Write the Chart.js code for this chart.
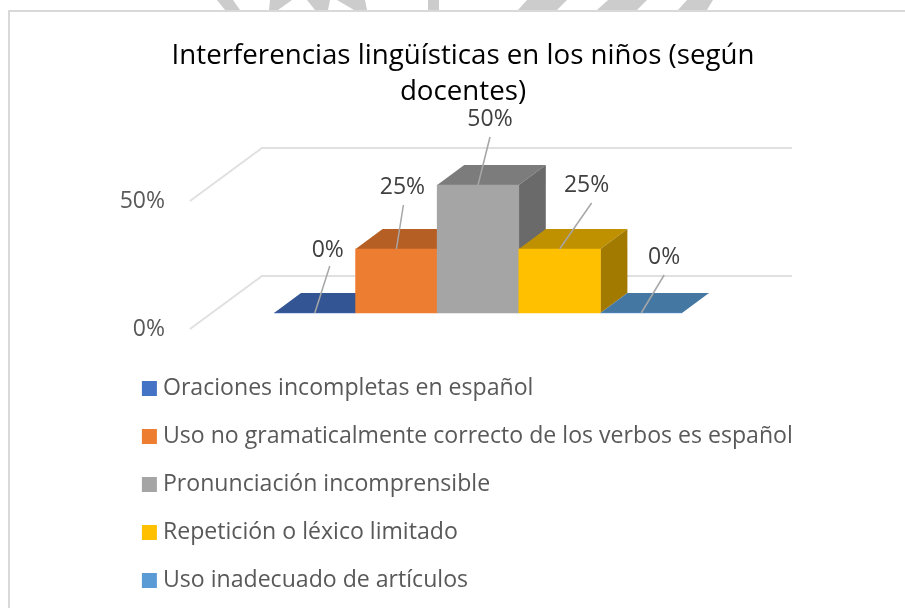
<!DOCTYPE html>
<html><head><meta charset="utf-8">
<style>html,body{margin:0;padding:0;background:#fff}canvas{display:block}</style>
<script src="https://cdn.jsdelivr.net/npm/chart.js@4"></script>
</head><body><canvas id="c" width="905" height="608"></canvas>
<script>
const titleLines = ['Interferencias lingüísticas en los niños (según', 'docentes)'];
const categories = ['Oraciones incompletas en español','Uso no gramaticalmente correcto de los verbos es español','Pronunciación incomprensible','Repetición o léxico limitado','Uso inadecuado de artículos'];
const values = [0, 25, 50, 25, 0];
const yTicks = [0, 50];
const frontColors = ['#4472C4','#ED7D31','#A5A5A5','#FFC000','#5B9BD5'];
const topColors = ['#335593','#B65F25','#7C7C7C','#BF9000','#4577A3'];
const sideColors = ['#29447A','#9A4F1E','#6A6A6A','#A37A00','#38607F'];
const labelOffsets = [[13,-63],[6,-62],[12,-66],[27,-64],[23,-56]];
const leaderEnds = [[15,-47],[7,-44],[12,-48],[32,-46],[23,-38]];
const depth = {x:27, y:20};
const wall = {x:72, y:-53, right:792};
const watermark = [[[217,0],[233,0],[240,10],[225,10]],[[270,0],[292,0],[278,10],[269,10]],[[307,0],[330,0],[328,10],[315,10]],[[337,0],[365,0],[367,10],[354,10]],[[428,0],[439,0],[439,10],[428,10]],[[527,0],[567,0],[557,10],[518,10]],[[608,0],[647,0],[637,10],[597,10]],[[687,0],[713,0],[707,10],[678,10]]];
const FONT = '"Open Sans"';
const poly = (ctx, pts, fill) => { ctx.beginPath(); pts.forEach((p,i)=> i?ctx.lineTo(p[0],p[1]):ctx.moveTo(p[0],p[1])); ctx.closePath(); ctx.fillStyle = fill; ctx.fill(); };

const scene = {
  id:'scene',
  afterLayout(chart){
    const lg = chart.legend;
    lg.maxHeight = 600; lg.maxWidth = 800; lg.fit();
    lg.left = 122.5; lg.right = lg.left + lg.width;
    lg.top = 352; lg.bottom = lg.top + lg.height;
    const tt = chart.titleBlock;
    tt.left = 21; tt.right = 905; tt.width = 884;
  },
  beforeDraw(chart){
    const ctx = chart.ctx;
    ctx.save();
    watermark.forEach(p => poly(ctx,p,'#CCCCCC'));
    ctx.strokeStyle = '#D9D9D9'; ctx.lineWidth = 2;
    ctx.beginPath(); ctx.moveTo(9,608); ctx.lineTo(9,11); ctx.lineTo(905,11); ctx.stroke();
    const sc = chart.scales.y;
    ctx.strokeStyle = '#E0E0E0'; ctx.lineWidth = 2;
    yTicks.forEach(t => {
      const y = sc.getPixelForValue(t), x0 = 190;
      ctx.beginPath(); ctx.moveTo(x0,y); ctx.lineTo(x0+wall.x,y+wall.y); ctx.lineTo(wall.right,y+wall.y); ctx.stroke();
    });
    ctx.restore();
  },
  beforeDatasetsDraw(chart){
    const ctx = chart.ctx;
    ctx.save();
    chart.getDatasetMeta(0).data.forEach((b,i) => {
      const l = b.x-b.width/2, r = b.x+b.width/2, t = b.y, bs = b.base;
      poly(ctx,[[l,t],[l+depth.x,t-depth.y],[r+depth.x,t-depth.y],[r,t]],topColors[i]);
      if (bs-t > 0.5) poly(ctx,[[r,t],[r+depth.x,t-depth.y],[r+depth.x,bs-depth.y],[r,bs]],sideColors[i]);
    });
    ctx.restore();
  },
  afterDatasetsDraw(chart){
    const ctx = chart.ctx;
    ctx.save();
    ctx.font = '23px '+FONT; ctx.textAlign='center'; ctx.textBaseline='middle';
    chart.getDatasetMeta(0).data.forEach((b,i) => {
      ctx.strokeStyle='#A6A6A6'; ctx.lineWidth=1.5;
      ctx.beginPath(); ctx.moveTo(b.x,b.y); ctx.lineTo(b.x+leaderEnds[i][0],b.y+leaderEnds[i][1]); ctx.stroke();
      ctx.fillStyle='#404040';
      ctx.fillText(values[i]+'%', b.x+labelOffsets[i][0], b.y+labelOffsets[i][1]);
    });
    ctx.restore();
  }
};

new Chart(document.getElementById('c'), {
  type:'bar',
  data:{labels:categories, datasets:[{data:values, yAxisID:'yb', backgroundColor:frontColors, barPercentage:1, categoryPercentage:1, borderWidth:0}]},
  plugins:[scene],
  options:{
    responsive:false, animation:false, devicePixelRatio:1,
    layout:{padding:{left:0,right:223,top:0,bottom:279}},
    plugins:{
      tooltip:{enabled:false},
      title:{display:true,text:titleLines,color:'#000000',fullSize:false,font:{family:FONT,size:27.7,weight:'normal',lineHeight:36/27.7},padding:{top:38,bottom:0}},
      legend:{position:'chartArea',align:'start',
        labels:{boxWidth:4,boxHeight:4,padding:24.9,color:'#595959',font:{family:FONT,size:23.1},
          generateLabels:c=>c.data.labels.map((t,i)=>({text:t,fillStyle:frontColors[i],strokeStyle:frontColors[i],lineWidth:11,fontColor:'#595959',index:i,hidden:false}))}}
    },
    scales:{
      x:{display:false},
      y:{position:'left',min:0,max:85.55,grid:{display:false},border:{display:false},
        afterFit:a=>{a.width=274;a.paddingTop=0;a.paddingBottom=0;a.paddingLeft=0;a.paddingRight=0},
        ticks:{stepSize:50,includeBounds:false,padding:109-8,color:'#595959',font:{family:FONT,size:23},callback:v=>v+'%'}},
      yb:{display:false,min:-6.25,max:79.3}
    }
  }
});
</script></body></html>
